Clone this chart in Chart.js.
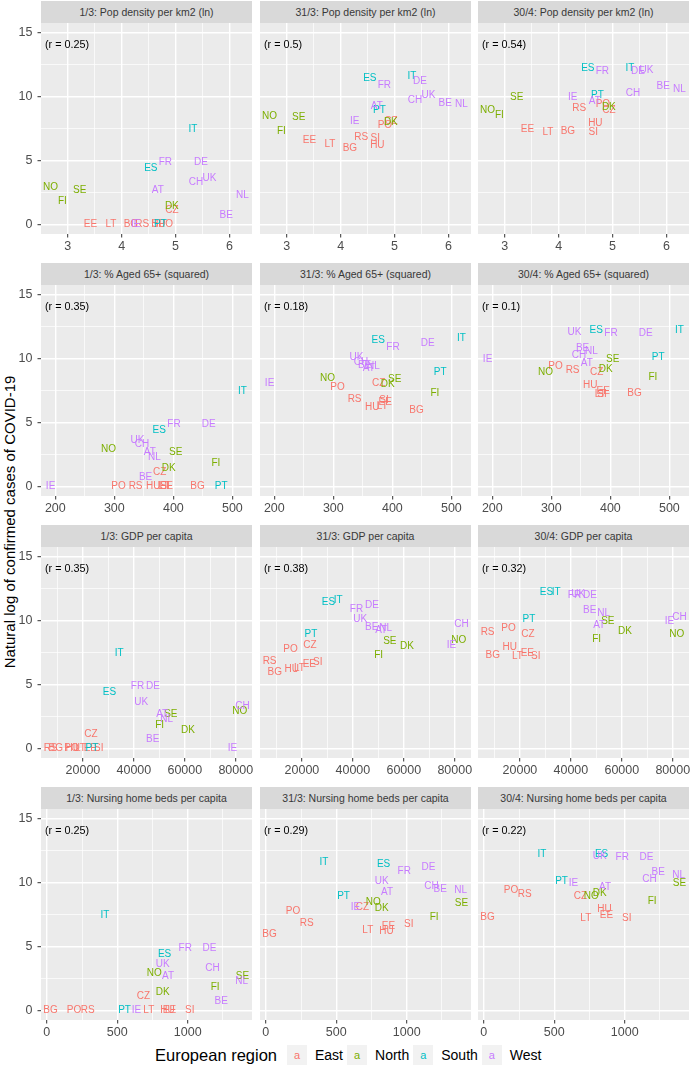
<!DOCTYPE html>
<html>
<head>
<meta charset="utf-8">
<title>COVID-19 cases vs country characteristics</title>
<script src="https://cdn.jsdelivr.net/npm/chart.js@4.4.1/dist/chart.umd.min.js"></script>
<style>
    body { margin: 0; background: #fff; }
    #figure { position: relative; width: 690px; height: 1068px; overflow: hidden; background: #fff;
              font-family: 'Liberation Sans', Arial, sans-serif; }
    .strip { position: absolute; height: 22px; line-height: 22px; background: #D9D9D9; color: #383838;
             font-size: 10.5px; text-align: center; white-space: nowrap; }
    .panel { position: absolute; }
    #ytitle { position: absolute; left: 9px; top: 522px; transform: translate(-50%, -50%) rotate(-90deg);
              font-size: 15px; color: #000; white-space: nowrap; }
    #legend { position: absolute; left: 155px; top: 1044px; height: 22px; display: flex; align-items: center; }
    #legend .title { font-size: 16.5px; color: #000; margin-right: 6px; width: 126px; white-space: nowrap; }
    #legend .key { width: 20px; height: 20px; background: #F2F2F2; text-align: center;
                   line-height: 20px; font-size: 11px; }
    #legend .lab { font-size: 14px; color: #000; margin-left: 8px; margin-right: 4px; white-space: nowrap; }
</style>
</head>
<body>
<div id="figure">
    <div id="ytitle">Natural log of confirmed cases of COVID-19</div>
    <div id="legend"></div>
</div>
<script>
// ==== data ====
var countries = ['AT', 'BE', 'BG', 'CH', 'CZ', 'DE', 'DK', 'EE', 'ES', 'FI', 'FR', 'HU',
                 'IE', 'IT', 'LT', 'NL', 'NO', 'PO', 'PT', 'RS', 'SE', 'SI', 'UK'];
var regionOf = ['West', 'West', 'East', 'West', 'East', 'West', 'North', 'East', 'South', 'North', 'West', 'East',
                'West', 'South', 'East', 'West', 'North', 'East', 'South', 'East', 'North', 'East', 'West'];

var regionNames = ['East', 'North', 'South', 'West'];
var regionColors = ['#F8766D', '#7CAE00', '#00BFC4', '#C77CFF'];

var dates = ['1/3', '31/3', '30/4'];

// y: natural log of confirmed cases on each date
var lnCases_1_3 = [2.64, 0.69, 0, 3.30, 1.10, 4.87, 1.39, 0, 4.43, 1.79, 4.87, 0,
                   0, 7.43, 0, 2.30, 2.94, 0, 0, 0, 2.64, 0, 3.58];
var lnCases_31_3 = [9.21, 9.45, 5.98, 9.72, 8.10, 11.18, 8.02, 6.61, 11.45, 7.25, 10.85, 6.19,
                    8.08, 11.57, 6.28, 9.43, 8.43, 7.74, 8.92, 6.80, 8.39, 6.70, 10.12];
var lnCases_30_4 = [9.62, 10.77, 7.28, 10.25, 8.90, 11.98, 9.13, 7.42, 12.24, 8.51, 12.01, 7.91,
                    9.92, 12.20, 7.21, 10.57, 8.94, 9.42, 10.08, 9.10, 9.94, 7.21, 12.05];

// x: country characteristics
var popDensity = [4.67, 5.94, 4.17, 5.38, 4.93, 5.47, 4.93, 3.42, 4.54, 2.90, 4.81, 4.68,
                  4.26, 5.32, 3.80, 6.24, 2.68, 4.82, 4.72, 4.38, 3.22, 4.64, 5.63];
var aged65sq = [360, 353, 441, 347, 377, 460, 392, 388, 376, 472, 401, 366,
                192, 517, 383, 368, 290, 307, 481, 336, 404, 386, 339];
var gdpPerCapita = [51100, 47400, 9300, 82600, 23100, 47500, 61200, 22900, 30400, 50100, 41400, 16000,
                    78700, 34200, 19000, 52900, 81600, 15500, 23500, 7300, 54500, 26200, 42900];
var nursingBeds = [861, 1237, 27, 1175, 686, 1154, 822, 870, 836, 1195, 982, 856,
                   637, 412, 724, 1382, 762, 193, 552, 290, 1388, 1014, 822];

// correlation labels, one per date
var rPopDensity = [0.25, 0.5, 0.54];
var rAged65 = [0.35, 0.18, 0.1];
var rGdp = [0.35, 0.38, 0.32];
var rNursing = [0.25, 0.29, 0.22];

// tick labels
var yTicks = [0, 5, 10, 15];
var yMinor = [2.5, 7.5, 12.5];
var popTicks = [3, 4, 5, 6];
var popMinor = [2.5, 3.5, 4.5, 5.5];
var agedTicks = [200, 300, 400, 500];
var agedMinor = [250, 350, 450];
var gdpTicks = [20000, 40000, 60000, 80000];
var gdpMinor = [10000, 30000, 50000, 70000];
var nursingTicks = [0, 500, 1000];
var nursingMinor = [250, 750, 1250];

// ==== layout ====
var colLeft = [41, 260, 478];
var rowTop = [23, 285, 547, 809];
var PANEL = 211;
var STRIP_H = 22;
var YAXIS_W = 41;
var XAXIS_H = 20;
var PAD_RIGHT = 8;
var PAD_TOP = 14;
var FONT = "'Liberation Sans', Arial, sans-serif";

Chart.defaults.font.family = FONT;

var rows = [
    {title: 'Pop density per km2 (ln)', x: popDensity, majors: popTicks, minors: popMinor, r: rPopDensity},
    {title: '% Aged 65+ (squared)', x: aged65sq, majors: agedTicks, minors: agedMinor, r: rAged65},
    {title: 'GDP per capita', x: gdpPerCapita, majors: gdpTicks, minors: gdpMinor, r: rGdp},
    {title: 'Nursing home beds per capita', x: nursingBeds, majors: nursingTicks, minors: nursingMinor, r: rNursing}
];
var casesByDate = [lnCases_1_3, lnCases_31_3, lnCases_30_4];

// ggplot style range: data range plus 5% each side
function expandRange(values) {
    var lo = Math.min.apply(null, values), hi = Math.max.apply(null, values);
    var pad = (hi - lo) * 0.05;
    return [lo - pad, hi + pad];
}

function tickList(majors, minors, min, max) {
    return majors.concat(minors)
        .filter(function (v) { return v >= min && v <= max; })
        .sort(function (a, b) { return a - b; })
        .map(function (v) { return {value: v}; });
}

//==============================================================
// panel background + text labels
var panelBackground = {
    id: 'panelBackground',
    beforeDraw: function (chart) {
        var a = chart.chartArea, ctx = chart.ctx;
        ctx.save();
        ctx.fillStyle = '#EBEBEB';
        ctx.fillRect(a.left, a.top, a.right - a.left, a.bottom - a.top);
        ctx.restore();
    }
};

var countryLabels = {
    id: 'countryLabels',
    afterDatasetsDraw: function (chart, args, opts) {
        var a = chart.chartArea, ctx = chart.ctx;
        ctx.save();
        ctx.beginPath();
        ctx.rect(a.left, a.top, a.right - a.left, a.bottom - a.top);
        ctx.clip();
        ctx.font = '10px ' + FONT;
        ctx.textAlign = 'center';
        ctx.textBaseline = 'middle';
        chart.data.datasets.forEach(function (ds, i) {
            var meta = chart.getDatasetMeta(i);
            ctx.fillStyle = ds.textColor;
            meta.data.forEach(function (pt, j) {
                ctx.fillText(ds.codes[j], pt.x, pt.y);
            });
        });
        // correlation label
        ctx.fillStyle = '#000000';
        ctx.font = '10.8px ' + FONT;
        ctx.textAlign = 'left';
        ctx.fillText('(r = ' + opts.r + ')', a.left + 4, chart.scales.y.getPixelForValue(opts.rY));
        ctx.restore();
    }
};

function gridWidth(majors) {
    return function (c) {
        return c.tick && majors.indexOf(c.tick.value) >= 0 ? 1.4 : 0.7;
    };
}
function tickColor(majors) {
    return function (c) {
        return c.tick && majors.indexOf(c.tick.value) >= 0 ? '#333333' : 'rgba(0,0,0,0)';
    };
}

function buildPanel(rowIdx, colIdx) {
    var row = rows[rowIdx];
    var cases = casesByDate[colIdx];
    var fig = document.getElementById('figure');
    var first = colIdx === 0;

    var strip = document.createElement('div');
    strip.className = 'strip';
    strip.style.left = colLeft[colIdx] + 'px';
    strip.style.top = (rowTop[rowIdx] - STRIP_H) + 'px';
    strip.style.width = PANEL + 'px';
    strip.textContent = dates[colIdx] + ': ' + row.title;

    var yW = first ? YAXIS_W : 0;
    var canvas = document.createElement('canvas');
    canvas.className = 'panel';
    canvas.width = yW + PANEL + PAD_RIGHT;
    canvas.height = PAD_TOP + PANEL + XAXIS_H;
    canvas.style.left = (colLeft[colIdx] - yW) + 'px';
    canvas.style.top = (rowTop[rowIdx] - PAD_TOP) + 'px';
    fig.appendChild(canvas);
    fig.appendChild(strip);

    var datasets = regionNames.map(function (reg, k) {
        var idx = [];
        countries.forEach(function (c, n) { if (regionOf[n] === reg) idx.push(n); });
        return {
            label: reg,
            data: idx.map(function (n) { return {x: row.x[n], y: cases[n]}; }),
            codes: idx.map(function (n) { return countries[n]; }),
            textColor: regionColors[k],
            pointRadius: 0,
            pointHoverRadius: 0,
            borderWidth: 0
        };
    });

    var xr = expandRange(row.x);

    new Chart(canvas.getContext('2d'), {
        type: 'scatter',
        data: {datasets: datasets},
        options: {
            responsive: false,
            animation: false,
            events: [],
            layout: {padding: {top: PAD_TOP, right: PAD_RIGHT}, autoPadding: false},
            plugins: {
                legend: {display: false},
                tooltip: {enabled: false},
                countryLabels: {r: row.r[colIdx], rY: 14}
            },
            scales: {
                x: {
                    type: 'linear',
                    bounds: 'data',
                    min: xr[0],
                    max: xr[1],
                    afterBuildTicks: function (scale) { scale.ticks = tickList(row.majors, row.minors, xr[0], xr[1]); },
                    afterFit: function (scale) { scale.height = XAXIS_H; },
                    border: {display: false},
                    grid: {
                        color: '#FFFFFF',
                        lineWidth: gridWidth(row.majors),
                        drawTicks: true,
                        tickLength: 3.5,
                        tickWidth: 1,
                        tickColor: tickColor(row.majors)
                    },
                    ticks: {
                        autoSkip: false,
                        maxRotation: 0,
                        padding: 1.5,
                        color: '#4D4D4D',
                        font: {size: 12.5},
                        callback: function (v) { return row.majors.indexOf(v) >= 0 ? String(v) : ''; }
                    }
                },
                y: {
                    type: 'linear',
                    bounds: 'data',
                    min: -0.75,
                    max: 15.75,
                    afterBuildTicks: function (scale) { scale.ticks = tickList(yTicks, yMinor, -0.75, 15.75); },
                    afterFit: function (scale) { scale.width = yW; },
                    border: {display: false},
                    grid: {
                        color: '#FFFFFF',
                        lineWidth: gridWidth(yTicks),
                        drawTicks: first,
                        tickLength: 3.5,
                        tickWidth: 1,
                        tickColor: tickColor(yTicks)
                    },
                    ticks: {
                        display: first,
                        autoSkip: false,
                        padding: 5,
                        color: '#4D4D4D',
                        font: {size: 12.5},
                        callback: function (v) { return yTicks.indexOf(v) >= 0 ? String(v) : ''; }
                    }
                }
            }
        },
        plugins: [panelBackground, countryLabels]
    });
}

for (var i = 0; i < rows.length; i++) {
    for (var j = 0; j < dates.length; j++) {
        buildPanel(i, j);
    }
}

//==============================================================
// legend
var legend = document.getElementById('legend');
var html = '<span class="title">European region</span>';
regionNames.forEach(function (reg, k) {
    html += '<span class="key" style="color:' + regionColors[k] + '">a</span><span class="lab">' + reg + '</span>';
});
legend.innerHTML = html;
</script>
</body>
</html>
